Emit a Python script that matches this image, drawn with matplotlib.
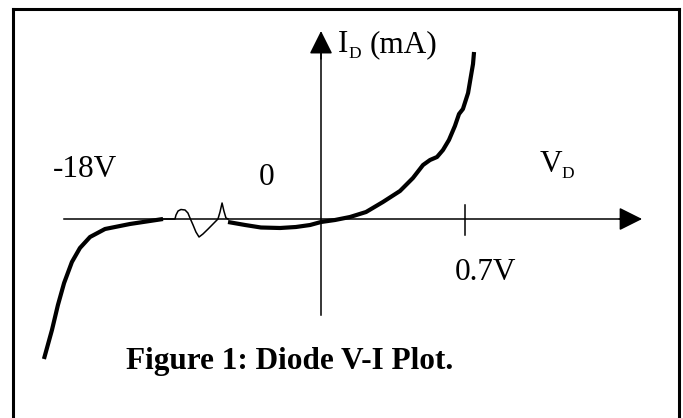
import matplotlib
matplotlib.use("Agg")
import matplotlib.pyplot as plt
from matplotlib.lines import Line2D

# diode curve, drawn in a schematic scale: x in volts (the reverse side is
# broken so it is not to scale), y in mA
rev_v = [-1.347, -1.308, -1.279, -1.249, -1.211, -1.172, -1.123, -1.050, -0.929, -0.768]
rev_i = [-14.0, -11.1, -8.6, -6.4, -4.3, -2.9, -1.8, -1.0, -0.5, 0.0]

# the little break symbol on the axis
brk_v = [-0.768, -0.710, -0.705, -0.695, -0.681, -0.661, -0.647, -0.637, -0.622, -0.608,
         -0.593, -0.574, -0.549, -0.525, -0.501, -0.491, -0.481, -0.472, -0.462, -0.452]
brk_i = [0.0, 0.0, 0.4, 0.8, 0.95, 0.9, 0.6, 0.1, -0.6, -1.3,
         -1.8, -1.5, -1.0, -0.5, 0.0, 0.7, 1.6, 0.8, 0.1, 0.0]

fwd_v = [-0.452, -0.369, -0.292, -0.199, -0.122, -0.053, 0.0, 0.068, 0.141, 0.219,
         0.301, 0.384, 0.447, 0.496, 0.530, 0.564, 0.593, 0.622, 0.651, 0.671,
         0.690, 0.715, 0.729, 0.739, 0.744]
fwd_i = [-0.3, -0.6, -0.85, -0.9, -0.8, -0.6, -0.3, -0.1, 0.2, 0.7,
         1.7, 2.8, 4.1, 5.4, 5.9, 6.2, 6.9, 7.9, 9.3, 10.5,
         11.0, 12.6, 14.3, 15.5, 16.7]

knee_v = 0.7

serif = "Liberation Serif"
fs = 22.5
sub_fs = 12.5

fig = plt.figure(figsize=(6.83, 4.18), dpi=100)
ax = fig.add_axes([0, 0, 1, 1])
ax.set_xlim(-1.5606, 1.7599)
ax.set_ylim(-19.9, 21.9)
ax.axis("off")

# axes with arrow heads
ax.plot([-1.249, 1.50], [0, 0], color="black", lw=1.1)
ax.annotate("", xy=(1.561, 0), xytext=(1.45, 0),
            arrowprops=dict(arrowstyle="-|>,head_length=1,head_width=0.5",
                            mutation_scale=14.4, color="black", lw=1.1,
                            shrinkA=0, shrinkB=0))
ax.plot([0, 0], [-9.6, 17.0], color="black", lw=1.1)
ax.annotate("", xy=(0, 18.8), xytext=(0, 16.0),
            arrowprops=dict(arrowstyle="-|>,head_length=1,head_width=0.5",
                            mutation_scale=14.4, color="black", lw=1.1,
                            shrinkA=0, shrinkB=0))
ax.plot([knee_v, knee_v], [1.4, -1.6], color="black", lw=1.1)

# the curve
ax.plot(rev_v, rev_i, color="black", lw=3, solid_capstyle="butt")
ax.plot(brk_v, brk_i, color="black", lw=1.1)
ax.plot(fwd_v, fwd_i, color="black", lw=3, solid_capstyle="butt")

# labels
ax.text(-1.303, 4.2, "-18V", fontsize=fs, family=serif, va="baseline")
ax.text(-0.267, 3.4, "0", fontsize=fs, family=serif, va="baseline", ha="center")
ax.text(1.065, 4.7, "V", fontsize=fs, family=serif, va="baseline")
ax.text(1.170, 4.1, "D", fontsize=sub_fs, family=serif, va="baseline")
ax.text(0.083, 16.7, "I", fontsize=fs, family=serif, va="baseline")
ax.text(0.134, 16.1, "D", fontsize=sub_fs, family=serif, va="baseline")
ax.text(0.238, 16.7, "(mA)", fontsize=fs, family=serif, va="baseline")
ax.text(0.651, -6.1, "0.7V", fontsize=fs, family=serif, va="baseline")
ax.text(-0.948, -15.0, "Figure 1: Diode V-I Plot.", fontsize=fs, family=serif,
        weight="bold", va="baseline")

# frame round the figure
bl = 13 / 683
br = 679 / 683
bt = 1 - 9 / 418
fig.add_artist(Line2D([bl, bl], [0, bt], color="black", lw=2.2, transform=fig.transFigure))
fig.add_artist(Line2D([bl, br], [bt, bt], color="black", lw=2.2, transform=fig.transFigure))
fig.add_artist(Line2D([br, br], [0, bt], color="black", lw=2.2, transform=fig.transFigure))

fig.savefig("out.png", dpi=100)
